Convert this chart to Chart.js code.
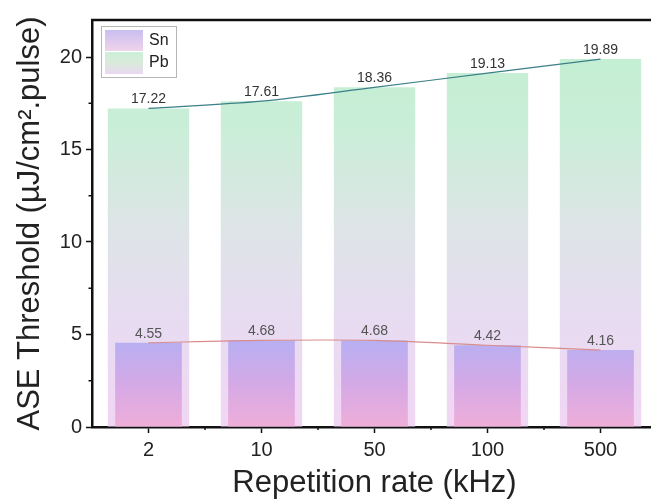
<!DOCTYPE html>
<html lang="en">
<head>
    <meta charset="UTF-8">
    <title>ASE Threshold vs Repetition rate</title>
    <script src="https://cdn.jsdelivr.net/npm/chart.js"></script>
    <style>
        html, body { margin: 0; padding: 0; background: #fff; overflow: hidden; }
        #myChart { display: block; }
    </style>
</head>
<body>
    <canvas id="myChart" width="666" height="504"></canvas>

    <script>
        const rates = ['2', '10', '50', '100', '500'];
        const pbValues = [17.22, 17.61, 18.36, 19.13, 19.89];
        const snValues = [4.55, 4.68, 4.68, 4.42, 4.16];
        const yTicks = [0, 5, 10, 15, 20];

        const FONT = 'Liberation Sans, Arial, sans-serif';

        function pbFill(context) {
            const chart = context.chart;
            const area = chart.chartArea;
            if (!area) return '#c6efd4';
            const y = chart.scales.y;
            const g = chart.ctx.createLinearGradient(0, y.getPixelForValue(0), 0, y.getPixelForValue(20));
            g.addColorStop(0, '#f1d6f4');
            g.addColorStop(0.3, '#e7dcf1');
            g.addColorStop(0.55, '#dde5e6');
            g.addColorStop(0.8, '#caeed8');
            g.addColorStop(1, '#c4efd3');
            return g;
        }

        function snFill(context) {
            const chart = context.chart;
            const area = chart.chartArea;
            if (!area) return '#bdaef0';
            const y = chart.scales.y;
            const g = chart.ctx.createLinearGradient(0, y.getPixelForValue(0), 0, y.getPixelForValue(4.7));
            g.addColorStop(0, '#efaed9');
            g.addColorStop(0.5, '#d4a9e6');
            g.addColorStop(1, '#b7aff2');
            return g;
        }

        // value labels above the bars
        const barLabelPlugin = {
            id: 'barLabelPlugin',
            afterDatasetsDraw(chart) {
                const {ctx} = chart;
                ctx.save();
                ctx.textAlign = 'center';
                ctx.textBaseline = 'bottom';
                [[0, '#333', pbValues], [1, '#555', snValues]].forEach(([idx, color, vals]) => {
                    const meta = chart.getDatasetMeta(idx);
                    ctx.fillStyle = color;
                    ctx.font = '14px ' + FONT;
                    meta.data.forEach((bar, i) => {
                        ctx.fillText(vals[i].toFixed(2), bar.x, bar.y - 2);
                    });
                });
                ctx.restore();
            }
        };

        // frame top line, minor ticks and legend box
        const framePlugin = {
            id: 'framePlugin',
            afterDraw(chart) {
                const {ctx, chartArea} = chart;
                const x = chart.scales.x;
                const y = chart.scales.y;
                ctx.save();
                ctx.strokeStyle = '#111';
                ctx.lineWidth = 2.5;
                ctx.beginPath();
                ctx.moveTo(chartArea.left - 1, chartArea.top);
                ctx.lineTo(chartArea.right, chartArea.top);
                ctx.stroke();

                // minor ticks between categories
                ctx.lineWidth = 1.5;
                const step = x.getPixelForValue(1) - x.getPixelForValue(0);
                for (let i = 0; i < rates.length; i++) {
                    const px = x.getPixelForValue(i) + step / 2;
                    ctx.beginPath();
                    ctx.moveTo(px, chartArea.bottom);
                    ctx.lineTo(px, chartArea.bottom + 3);
                    ctx.stroke();
                }
                // minor y ticks
                [2.5, 7.5, 12.5, 17.5].forEach((v) => {
                    const py = y.getPixelForValue(v);
                    ctx.beginPath();
                    ctx.moveTo(chartArea.left, py);
                    ctx.lineTo(chartArea.left - 3.5, py);
                    ctx.stroke();
                });

                // legend
                const lx = 101, ly = 26, lw = 75, lh = 51;
                ctx.fillStyle = '#fff';
                ctx.fillRect(lx, ly, lw, lh);
                ctx.strokeStyle = '#b5b5b5';
                ctx.lineWidth = 1;
                ctx.strokeRect(lx + 0.5, ly + 0.5, lw, lh);

                let g = ctx.createLinearGradient(0, ly + 4, 0, ly + 25);
                g.addColorStop(0, '#c9bff2');
                g.addColorStop(1, '#efd3e8');
                ctx.fillStyle = g;
                ctx.fillRect(lx + 4, ly + 4, 38, 21);

                g = ctx.createLinearGradient(0, ly + 26, 0, ly + 48);
                g.addColorStop(0, '#cbf0d8');
                g.addColorStop(0.5, '#d8ead9');
                g.addColorStop(1, '#ead8f3');
                ctx.fillStyle = g;
                ctx.fillRect(lx + 4, ly + 26, 38, 22);

                ctx.fillStyle = '#222';
                ctx.font = '16px ' + FONT;
                ctx.textAlign = 'left';
                ctx.textBaseline = 'middle';
                ctx.fillText('Sn', lx + 48, ly + 15);
                ctx.fillText('Pb', lx + 48, ly + 37);
                ctx.restore();
            }
        };

        const config = {
            type: 'bar',
            data: {
                labels: rates,
                datasets: [
                    {
                        label: 'Pb',
                        data: pbValues,
                        backgroundColor: pbFill,
                        grouped: false,
                        barPercentage: 0.72,
                        categoryPercentage: 1,
                        order: 3
                    },
                    {
                        label: 'Sn',
                        data: snValues,
                        backgroundColor: snFill,
                        grouped: false,
                        barPercentage: 0.59,
                        categoryPercentage: 1,
                        order: 2
                    },
                    {
                        type: 'line',
                        label: 'Pb line',
                        data: pbValues,
                        borderColor: '#3b7f88',
                        borderWidth: 1.2,
                        pointRadius: 0,
                        tension: 0.3,
                        order: 1
                    },
                    {
                        type: 'line',
                        label: 'Sn line',
                        data: snValues,
                        borderColor: '#d98c8c',
                        borderWidth: 1.2,
                        pointRadius: 0,
                        tension: 0.3,
                        order: 0
                    }
                ]
            },
            options: {
                responsive: false,
                animation: false,
                devicePixelRatio: 1,
                layout: { padding: { top: 20, right: 9, left: 0, bottom: 0 } },
                plugins: {
                    legend: { display: false },
                    tooltip: { enabled: false }
                },
                scales: {
                    x: {
                        offset: true,
                        afterFit(scale) { scale.height = 77; },
                        border: { display: true, color: '#111', width: 2.5 },
                        grid: {
                            display: true,
                            offset: false,
                            drawOnChartArea: false,
                            drawTicks: true,
                            tickLength: 6,
                            tickWidth: 1.5,
                            tickColor: '#111'
                        },
                        ticks: {
                            color: '#222',
                            font: { size: 20, family: FONT },
                            padding: 5,
                            maxRotation: 0
                        },
                        title: {
                            display: true,
                            text: 'Repetition rate (kHz)',
                            color: '#222',
                            font: { size: 31, family: FONT },
                            padding: { top: 0, bottom: 2 }
                        }
                    },
                    y: {
                        min: 0,
                        max: 22,
                        afterFit(scale) { scale.width = 92; },
                        border: { display: true, color: '#111', width: 2.5 },
                        grid: {
                            display: true,
                            drawOnChartArea: false,
                            drawTicks: true,
                            tickLength: 6,
                            tickWidth: 1.5,
                            tickColor: '#111'
                        },
                        ticks: {
                            stepSize: 5,
                            includeBounds: false,
                            color: '#222',
                            font: { size: 20, family: FONT },
                            padding: 4,
                            callback: (v) => (yTicks.includes(v) ? String(v) : '')
                        },
                        title: {
                            display: true,
                            text: 'ASE Threshold (\u00b5J/cm\u00b2.pulse)',
                            color: '#222',
                            font: { size: 31, family: FONT },
                            padding: { top: 12, bottom: 0 }
                        }
                    }
                }
            },
            plugins: [barLabelPlugin, framePlugin]
        };

        const ctx = document.getElementById('myChart').getContext('2d');
        new Chart(ctx, config);
    </script>
</body>
</html>
